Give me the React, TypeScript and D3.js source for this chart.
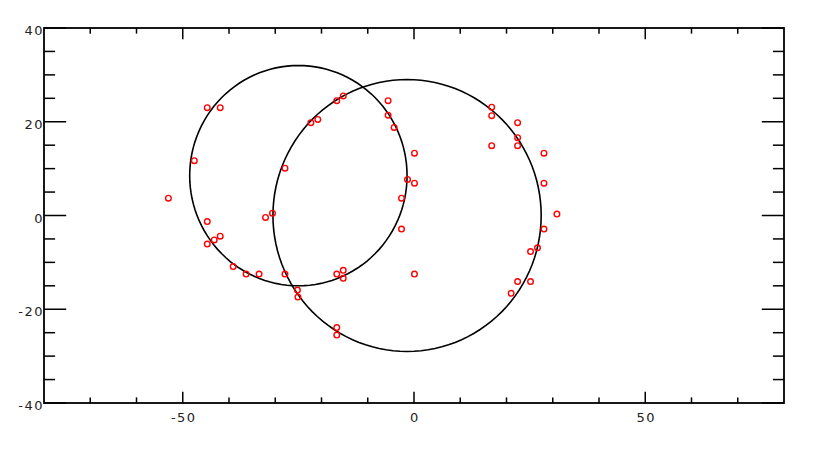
import React from "react";
import * as d3 from "d3";

const xTicksMajor = [-50, 0, 50];
const xTicksMinor = [-70, -60, -40, -30, -20, -10, 10, 20, 30, 40, 60, 70];
const yTicksMajor = [-40, -20, 0, 20, 40];
const yTicksMinor = [-35, -30, -25, -15, -10, -5, 5, 10, 15, 25, 30, 35];

const circleCx = [-25, -1.5];
const circleCy = [8.5, 0];
const circleR = [23.5, 29];

const ptX = [
  -53.1, -44.7, -41.9, -47.5, -44.7, -41.9, -43.2, -44.7, -39.1, -36.3,
  -33.5, -32.1, -30.6, -27.9, -27.9, -25.2, -25.1, -22.3, -20.8, -16.7,
  -15.3, -16.7, -15.3, -15.3, -16.7, -16.7, -5.6, -5.6, -4.3, 0.1,
  -1.4, 0.1, -2.7, -2.7, 0.1, 16.8, 16.8, 22.4, 22.4, 16.8,
  22.4, 28.1, 28.1, 30.9, 28.1, 26.7, 25.2, 22.4, 25.2, 21.0,
];
const ptY = [
  3.7, 23.0, 23.0, 11.7, -1.3, -4.4, -5.2, -6.1, -10.9, -12.5,
  -12.5, -0.4, 0.5, 10.1, -12.5, -15.9, -17.4, 19.8, 20.5, 24.5,
  25.5, -12.5, -11.7, -13.4, -23.9, -25.5, 24.5, 21.4, 18.8, 13.3,
  7.7, 6.9, 3.7, -2.9, -12.5, 23.1, 21.3, 19.8, 16.6, 14.9,
  14.9, 13.3, 6.9, 0.3, -2.9, -6.9, -7.7, -14.1, -14.1, -16.6,
];

export default function App() {
  const W = 830, H = 469;
  const left = 44, right = 784, top = 28, bottom = 403;
  const x = d3.scaleLinear().domain([-80, 80]).range([left, right]);
  const y = d3.scaleLinear().domain([-40, 40]).range([bottom, top]);
  const line = d3.line<[number, number]>().x(d => x(d[0])).y(d => y(d[1]));
  const circlePath = (cx: number, cy: number, r: number) => {
    const pts: [number, number][] = d3.range(0, 121).map(i => {
      const a = (i / 120) * 2 * Math.PI;
      return [cx + r * Math.cos(a), cy + r * Math.sin(a)];
    });
    return line(pts) || "";
  };
  const font = { fontFamily: "DejaVu Sans", fontSize: 13, letterSpacing: "1.5px", fill: "#222" };
  const pH = bottom - top, pW = right - left;
  const xMaj = pH * 0.03, xMin = pH * 0.015;
  const yMaj = pW * 0.03, yMin = pW * 0.015;
  return (
    <svg width={W} height={H} style={{ position: "absolute", left: 0, top: 0 }}>
      <rect width={W} height={H} fill="white" />
      <rect x={left} y={top} width={pW} height={pH} fill="none" stroke="#000" strokeWidth={1.8} />
      {xTicksMajor.map(t => (
        <g key={"xM" + t}>
          <line x1={x(t)} x2={x(t)} y1={bottom} y2={bottom - xMaj} stroke="#000" strokeWidth={1.5} />
          <line x1={x(t)} x2={x(t)} y1={top} y2={top + xMaj} stroke="#000" strokeWidth={1.5} />
          <text x={x(t) + 1} y={422} textAnchor="middle" style={font}>{t}</text>
        </g>
      ))}
      {xTicksMinor.map(t => (
        <g key={"xm" + t}>
          <line x1={x(t)} x2={x(t)} y1={bottom} y2={bottom - xMin} stroke="#000" strokeWidth={1.5} />
          <line x1={x(t)} x2={x(t)} y1={top} y2={top + xMin} stroke="#000" strokeWidth={1.5} />
        </g>
      ))}
      {yTicksMajor.map(t => (
        <g key={"yM" + t}>
          <line x1={left} x2={left + yMaj} y1={y(t)} y2={y(t)} stroke="#000" strokeWidth={1.5} />
          <line x1={right} x2={right - yMaj} y1={y(t)} y2={y(t)} stroke="#000" strokeWidth={1.5} />
          <text x={left} y={y(t) + 7} textAnchor="end" style={font}>{t}</text>
        </g>
      ))}
      {yTicksMinor.map(t => (
        <g key={"ym" + t}>
          <line x1={left} x2={left + yMin} y1={y(t)} y2={y(t)} stroke="#000" strokeWidth={1.5} />
          <line x1={right} x2={right - yMin} y1={y(t)} y2={y(t)} stroke="#000" strokeWidth={1.5} />
        </g>
      ))}
      {circleCx.map((cx, i) => (
        <path key={"c" + i} d={circlePath(cx, circleCy[i], circleR[i])} fill="none" stroke="#000" strokeWidth={1.6} />
      ))}
      {ptX.map((px, i) => (
        <circle key={"p" + i} cx={x(px)} cy={y(ptY[i])} r={2.8} fill="none" stroke="#ff0000" strokeWidth={1.4} />
      ))}
    </svg>
  );
}
